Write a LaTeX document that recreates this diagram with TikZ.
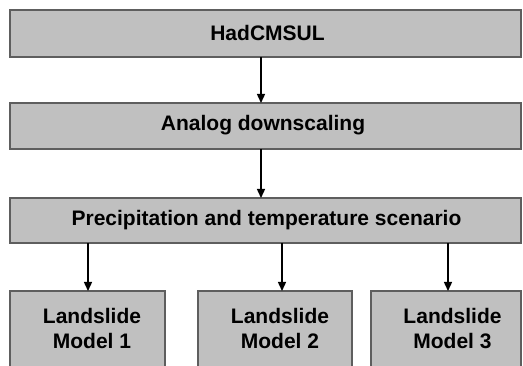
\documentclass[tikz,border=0pt]{standalone}
\usepackage{fontspec}
\setmainfont{Liberation Sans}
\usetikzlibrary{arrows.meta}
\definecolor{boxfill}{HTML}{C0C0C0}
\definecolor{boxline}{HTML}{5E5E5E}
\tikzset{
  box/.style={draw=boxline, fill=boxfill, line width=1.3pt, inner sep=0pt, outer sep=0pt, rectangle},
  lbl/.style={anchor=base, inner sep=0pt, font=\fontsize{21}{25}\selectfont\bfseries},
  arr/.style={line width=1.4pt, -{Triangle[width=8pt,length=9pt]}}
}
\begin{document}
\begin{tikzpicture}[x=1pt,y=-1pt]
\useasboundingbox (0,0) rectangle (523,366);
\clip (0,0) rectangle (523,366);
\node[box, minimum width=511pt, minimum height=47pt] (b1) at (265.5,33.5) {};
\node[box, minimum width=511pt, minimum height=46pt] (b2) at (265.5,126) {};
\node[box, minimum width=511pt, minimum height=45pt] (b3) at (265.5,220.5) {};
\node[box, minimum width=155pt, minimum height=89pt] (m1) at (87.5,335.5) {};
\node[box, minimum width=154pt, minimum height=89pt] (m2) at (275,335.5) {};
\node[box, minimum width=150pt, minimum height=89pt] (m3) at (446,335.5) {};
\node[lbl] (t1) at (267.5,41) {HadCMSUL};
\node[lbl] (t2) at (263,131) {Analog downscaling};
\node[lbl] (t3) at (266.5,226) {Precipitation and temperature scenario};
\node[lbl] (l1a) at (92,324) {Landslide};
\node[lbl] (l1b) at (92,349) {Model 1};
\node[lbl] (l2a) at (280,324) {Landslide};
\node[lbl] (l2b) at (280,349) {Model 2};
\node[lbl] (l3a) at (452.5,324) {Landslide};
\node[lbl] (l3b) at (452.5,349) {Model 3};
\coordinate (xa) at (261,0);
\coordinate (xb) at (88,0);
\coordinate (xc) at (282,0);
\coordinate (xd) at (448,0);
\draw[arr] (b1.south -| xa) -- (b2.north -| xa);
\draw[arr] (b2.south -| xa) -- (b3.north -| xa);
\draw[arr] (b3.south -| xb) -- (m1.north -| xb);
\draw[arr] (b3.south -| xc) -- (m2.north -| xc);
\draw[arr] (b3.south -| xd) -- (m3.north -| xd);
\end{tikzpicture}
\end{document}
